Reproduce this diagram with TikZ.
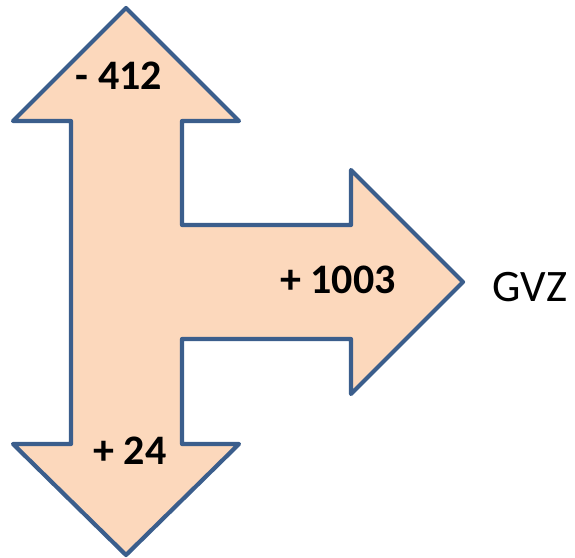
\documentclass[tikz,border=0pt]{standalone}
\usepackage{fontspec}
\setmainfont{Carlito}
\definecolor{arrowfill}{RGB}{252,216,188}
\definecolor{arrowline}{RGB}{59,94,140}

\begin{document}
\begin{tikzpicture}[x = 1pt, y = -1pt]
    \useasboundingbox (0,0) rectangle (575,557);
    \tikzset{
        value/.style = {font = \fontsize{42}{50}\selectfont\bfseries, inner sep = 0pt},
        target/.style = {font = \fontsize{45}{54}\selectfont, inner sep = 0pt}
    }
    \draw[fill = arrowfill, draw = arrowline, line width = 4.2pt, line join = round]
    (126,8) -- (239,121) -- (182,121) -- (182,225) -- (351,225) -- (351,170) -- (463,282) -- (351,394) -- (351,339) -- (182,339) -- (182,444) -- (239,444) -- (126,555) -- (13,444) -- (71,444) -- (71,121) -- (13,121) -- cycle;
    \node[value] (up) at (119,76) {- 412};
    \node[value] (right) at (338,280) {+ 1003};
    \node[value] (down) at (130,451) {+ 24};
    \node[target] (gvz) at (530,287) {GVZ};
\end{tikzpicture}
\end{document}
